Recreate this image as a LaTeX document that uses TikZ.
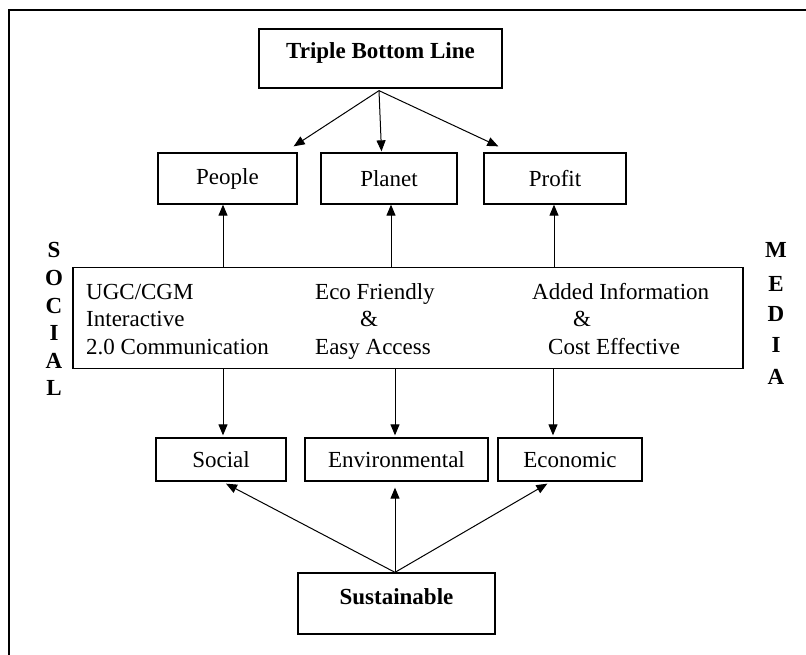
\documentclass[tikz,border=0pt]{standalone}
\usepackage{fontspec}
\setmainfont{Liberation Serif}
\usetikzlibrary{arrows.meta,calc}
\begin{document}
\begin{tikzpicture}[x=1pt,y=-1pt,
  box/.style={draw,line width=1.3pt,inner sep=0pt,font=\fontsize{23}{27}\selectfont},
  txt/.style={inner sep=0pt,font=\fontsize{23}{27}\selectfont},
  btxt/.style={inner sep=0pt,font=\fontsize{23}{27}\selectfont\bfseries},
  arr/.style={line width=1pt,-{Triangle[length=11pt,width=9pt]}}]
\useasboundingbox[fill=white] (0,0) rectangle (806,655);
\draw[line width=1.8pt] (9,655) -- (9,10) -- (806,10);
% top
\node[box,minimum width=243pt,minimum height=59pt] (tbl) at (380.5,58.5) {};
\node[btxt] (tbltxt) at (380.5,53) {Triple Bottom Line};
\node[box,minimum width=139pt,minimum height=51pt] (people) at (227.5,178.5) {People};
\node[box,minimum width=136pt,minimum height=51pt] (planet) at (389,178.5) {Planet};
\node[box,minimum width=142pt,minimum height=51pt] (profit) at (555,178.5) {Profit};
% middle
\node[box,minimum width=670pt,minimum height=101pt] (mid) at (408,318) {};
\node[txt,anchor=base west] (c1a) at (86,299) {UGC/CGM};
\node[txt,anchor=base west] (c1b) at (86,326) {Interactive};
\node[txt,anchor=base west] (c1c) at (86,354) {2.0 Communication};
\node[txt,anchor=base west] (c2a) at (315,299) {Eco Friendly};
\node[txt,anchor=base west] (c2b) at (360,326) {\&};
\node[txt,anchor=base west] (c2c) at (315,354) {Easy Access};
\node[txt,anchor=base west] (c3a) at (532,299) {Added Information};
\node[txt,anchor=base west] (c3b) at (573,326) {\&};
\node[txt,anchor=base west] (c3c) at (548,354) {Cost Effective};
% side letters
\node[btxt] (s1) at (54,250) {S};
\node[btxt] (s2) at (54,278) {O};
\node[btxt] (s3) at (54,306) {C};
\node[btxt] (s4) at (54,333) {I};
\node[btxt] (s5) at (54,361) {A};
\node[btxt] (s6) at (54,388) {L};
\node[btxt] (m1) at (776,250) {M};
\node[btxt] (m2) at (776,284) {E};
\node[btxt] (m3) at (776,314) {D};
\node[btxt] (m4) at (776,345) {I};
\node[btxt] (m5) at (776,377) {A};
% bottom
\node[box,minimum width=130pt,minimum height=43pt] (social) at (221,459.5) {Social};
\node[box,minimum width=183pt,minimum height=43pt] (env) at (396.5,459.5) {Environmental};
\node[box,minimum width=144pt,minimum height=43pt] (econ) at (570,459.5) {Economic};
\node[box,minimum width=197pt,minimum height=61pt] (sust) at (396.5,603.5) {};
\node[btxt] (susttxt) at (396.5,597) {Sustainable};
% arrows top
\draw[arr] ([xshift=-1.5pt,yshift=-2pt]tbl.south) -- ([xshift=-4pt,yshift=6pt]people.north east);
\draw[arr] ([xshift=-1.5pt,yshift=-2pt]tbl.south) -- ([xshift=-7.5pt,yshift=1pt]planet.north);
\draw[arr] ([xshift=-1.5pt,yshift=-2pt]tbl.south) -- ([xshift=15pt,yshift=6pt]profit.north west);
% up arrows
\draw[arr] ([xshift=-4.5pt]people.south |- mid.north) -- ([xshift=-4.5pt]people.south);
\draw[arr] ([xshift=2pt]planet.south |- mid.north) -- ([xshift=2pt]planet.south);
\draw[arr] ([xshift=-1pt]profit.south |- mid.north) -- ([xshift=-1pt]profit.south);
% down arrows
\draw[arr] ([xshift=2pt]social.north |- mid.south) -- ([xshift=2pt,yshift=2pt]social.north);
\draw[arr] ([xshift=-1.5pt]env.north |- mid.south) -- ([xshift=-1.5pt,yshift=2pt]env.north);
\draw[arr] ([xshift=-17pt]econ.north |- mid.south) -- ([xshift=-17pt,yshift=2pt]econ.north);
% bottom arrows
\draw[arr] ([xshift=-1.5pt]sust.north) -- ([xshift=5pt,yshift=-2pt]social.south);
\draw[arr] ([xshift=-1.5pt]sust.north) -- ([xshift=-1.5pt,yshift=-6pt]env.south);
\draw[arr] ([xshift=-1.5pt]sust.north) -- ([xshift=50pt,yshift=-2pt]econ.south west);
\end{tikzpicture}
\end{document}
